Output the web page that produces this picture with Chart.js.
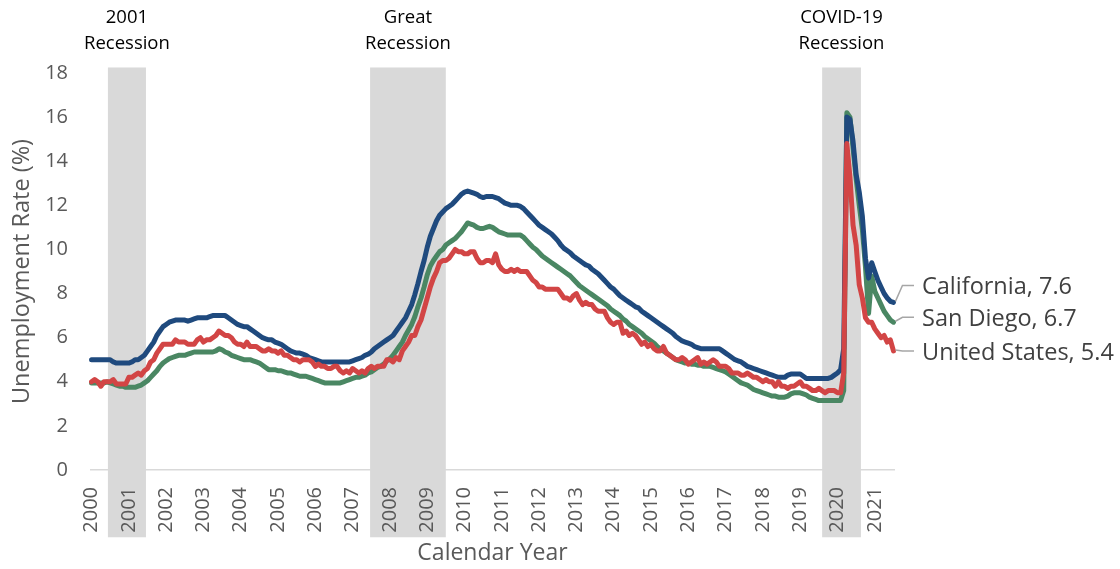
<!DOCTYPE html>
<html>
<head>
<meta charset="utf-8">
<script src="https://cdn.jsdelivr.net/npm/chart.js@4.4.1/dist/chart.umd.min.js"></script>
<style>
  html, body { margin: 0; padding: 0; background: #ffffff; }
  #wrap { width: 1120px; height: 569px; position: relative; }
</style>
</head>
<body>
<div id="wrap"><canvas id="chart"></canvas></div>
<script>
// Monthly unemployment rates (%), January 2000 through July 2021.
const firstYear = 2000;
const yearLabels = ['2000','2001','2002','2003','2004','2005','2006','2007','2008','2009','2010',
                    '2011','2012','2013','2014','2015','2016','2017','2018','2019','2020','2021'];

const unitedStates = [
  4.0,4.1,4.0,3.8,4.0,4.0,4.0,4.1,3.9,3.9,3.9,3.9,
  4.2,4.2,4.3,4.4,4.3,4.5,4.6,4.9,5.0,5.3,5.5,5.7,
  5.7,5.7,5.7,5.9,5.8,5.8,5.8,5.7,5.7,5.7,5.9,6.0,
  5.8,5.9,5.9,6.0,6.1,6.3,6.2,6.1,6.1,6.0,5.8,5.7,
  5.7,5.6,5.8,5.6,5.6,5.6,5.5,5.4,5.4,5.5,5.4,5.4,
  5.3,5.4,5.2,5.2,5.1,5.0,5.0,4.9,5.0,5.0,5.0,4.9,
  4.7,4.8,4.7,4.7,4.6,4.6,4.7,4.7,4.5,4.4,4.5,4.4,
  4.6,4.5,4.4,4.5,4.4,4.6,4.7,4.6,4.7,4.7,4.7,5.0,
  5.0,4.9,5.1,5.0,5.4,5.6,5.8,6.1,6.1,6.5,6.8,7.3,
  7.8,8.3,8.7,9.0,9.4,9.5,9.5,9.6,9.8,10.0,9.9,9.9,
  9.8,9.8,9.9,9.9,9.6,9.4,9.4,9.5,9.5,9.4,9.8,9.3,
  9.1,9.0,9.0,9.1,9.0,9.1,9.0,9.0,9.0,8.8,8.6,8.5,
  8.3,8.3,8.2,8.2,8.2,8.2,8.2,8.0,7.8,7.8,7.7,7.9,
  8.0,7.7,7.5,7.6,7.5,7.5,7.3,7.2,7.2,7.2,6.9,6.7,
  6.6,6.7,6.7,6.2,6.3,6.1,6.2,6.1,5.9,5.7,5.8,5.6,
  5.7,5.5,5.4,5.4,5.6,5.3,5.2,5.1,5.0,5.0,5.1,5.0,
  4.8,4.9,5.0,5.1,4.8,4.9,4.8,4.9,5.0,4.9,4.7,4.7,
  4.7,4.6,4.4,4.4,4.4,4.3,4.3,4.4,4.3,4.2,4.2,4.1,
  4.0,4.1,4.0,4.0,3.8,4.0,3.8,3.8,3.7,3.8,3.8,3.9,
  4.0,3.8,3.8,3.7,3.6,3.6,3.7,3.6,3.5,3.6,3.6,3.6,
  3.5,3.5,4.4,14.8,13.3,11.1,10.2,8.4,7.8,6.9,6.7,6.7,
  6.4,6.2,6.0,6.1,5.8,5.9,5.4
];

const california = [
  5.0,5.0,5.0,5.0,5.0,5.0,5.0,4.9,4.85,4.85,4.85,4.85,
  4.85,4.9,5.0,5.0,5.1,5.2,5.4,5.6,5.8,6.1,6.3,6.5,
  6.6,6.7,6.75,6.8,6.8,6.8,6.8,6.75,6.8,6.85,6.9,6.9,
  6.9,6.9,6.95,7.0,7.0,7.0,7.0,7.0,6.9,6.8,6.7,6.6,
  6.55,6.5,6.5,6.4,6.3,6.2,6.1,6.0,5.95,5.9,5.9,5.8,
  5.75,5.7,5.6,5.5,5.4,5.35,5.3,5.3,5.25,5.2,5.1,5.05,
  5.0,4.95,4.9,4.9,4.9,4.9,4.9,4.9,4.9,4.9,4.9,4.9,
  4.95,5.0,5.05,5.1,5.2,5.25,5.35,5.5,5.6,5.7,5.8,5.9,
  6.0,6.1,6.3,6.5,6.7,6.9,7.2,7.5,7.95,8.45,9.0,9.5,
  10.1,10.6,10.95,11.3,11.55,11.7,11.85,11.95,12.05,12.2,12.35,12.5,
  12.6,12.65,12.6,12.55,12.5,12.4,12.35,12.4,12.4,12.4,12.35,12.3,
  12.2,12.1,12.05,12.0,12.0,12.0,11.95,11.85,11.7,11.55,11.4,11.25,
  11.1,11.0,10.9,10.8,10.7,10.55,10.4,10.2,10.05,9.95,9.85,9.7,
  9.6,9.5,9.4,9.3,9.25,9.1,9.0,8.9,8.75,8.6,8.45,8.3,
  8.2,8.05,7.9,7.8,7.7,7.6,7.5,7.4,7.35,7.2,7.1,7.0,
  6.9,6.8,6.7,6.6,6.5,6.4,6.3,6.2,6.05,5.95,5.85,5.8,
  5.75,5.7,5.6,5.55,5.5,5.5,5.5,5.5,5.5,5.5,5.5,5.4,
  5.3,5.2,5.1,5.0,4.95,4.9,4.8,4.7,4.65,4.6,4.55,4.5,
  4.45,4.4,4.35,4.3,4.25,4.2,4.2,4.2,4.3,4.35,4.35,4.35,
  4.35,4.25,4.15,4.15,4.15,4.15,4.15,4.15,4.15,4.15,4.2,4.3,
  4.4,4.55,5.5,16.0,15.9,14.9,13.4,12.6,11.5,9.6,8.7,9.4,
  9.0,8.6,8.3,8.0,7.8,7.65,7.6
];

const sanDiego = [
  3.95,3.95,3.95,3.95,3.95,4.0,3.95,3.9,3.85,3.8,3.8,3.75,
  3.75,3.75,3.75,3.8,3.85,3.95,4.05,4.2,4.35,4.5,4.7,4.85,
  4.95,5.05,5.1,5.15,5.2,5.2,5.2,5.25,5.3,5.35,5.35,5.35,
  5.35,5.35,5.35,5.35,5.4,5.5,5.45,5.35,5.3,5.2,5.15,5.1,
  5.05,5.0,5.0,5.0,4.95,4.9,4.85,4.75,4.65,4.55,4.55,4.55,
  4.5,4.5,4.45,4.4,4.4,4.35,4.3,4.25,4.25,4.25,4.2,4.15,
  4.1,4.05,4.0,3.95,3.95,3.95,3.95,3.95,3.95,4.0,4.05,4.1,
  4.15,4.2,4.2,4.25,4.3,4.4,4.45,4.55,4.65,4.7,4.8,4.95,
  5.05,5.2,5.4,5.6,5.8,6.1,6.35,6.6,6.95,7.4,7.8,8.3,
  8.85,9.25,9.5,9.7,9.9,10.0,10.2,10.3,10.4,10.5,10.65,10.8,
  11.0,11.2,11.15,11.1,11.0,10.95,10.95,11.0,11.05,11.0,10.9,10.8,
  10.75,10.7,10.65,10.65,10.65,10.65,10.65,10.55,10.4,10.25,10.1,10.0,
  9.85,9.7,9.6,9.5,9.4,9.3,9.2,9.1,9.0,8.9,8.8,8.65,
  8.5,8.35,8.25,8.15,8.05,7.95,7.85,7.75,7.65,7.55,7.45,7.3,
  7.2,7.1,7.0,6.85,6.75,6.6,6.5,6.4,6.3,6.2,6.05,5.95,
  5.85,5.75,5.6,5.5,5.4,5.3,5.2,5.1,5.0,4.95,4.9,4.85,
  4.85,4.8,4.8,4.75,4.75,4.7,4.7,4.7,4.65,4.6,4.55,4.5,
  4.45,4.35,4.25,4.15,4.05,3.95,3.9,3.85,3.75,3.65,3.6,3.55,
  3.5,3.45,3.4,3.35,3.35,3.3,3.3,3.3,3.35,3.45,3.5,3.5,
  3.5,3.45,3.4,3.3,3.25,3.2,3.15,3.15,3.15,3.15,3.15,3.15,
  3.15,3.15,3.6,16.2,16.0,14.6,13.2,12.0,10.9,9.2,7.1,8.8,
  8.1,7.8,7.5,7.2,7.0,6.8,6.7
];

// Recession periods, as decimal years, with their two-line captions.
const recessionNames = [['2001', 'Recession'], ['Great', 'Recession'], ['COVID-19', 'Recession']];
const recessionStart = [2000.48, 2007.51, 2019.63];
const recessionEnd   = [2001.50, 2009.54, 2020.67];

// One category per month.
const months = unitedStates.map((_, i) =>
  `${firstYear + Math.floor(i / 12)}-${String(i % 12 + 1).padStart(2, '0')}`);

const FONT = "'Open Sans', 'Noto Sans', sans-serif";
const AXIS_GREY = '#595959';

// Month index (category value) of a decimal year, measured at the start of the month.
const yearToIndex = yr => (yr - firstYear) * 12 - 0.5;

const recessionBands = {
  id: 'recessionBands',
  beforeDraw(chart) {
    const { ctx, scales: { x, y } } = chart;
    const top = y.getPixelForValue(18.25);
    const bottom = y.getPixelForValue(-3.05);
    ctx.save();
    ctx.fillStyle = '#d9d9d9';
    recessionStart.forEach((start, k) => {
      const x0 = x.getPixelForValue(yearToIndex(start));
      const x1 = x.getPixelForValue(yearToIndex(recessionEnd[k]));
      ctx.fillRect(x0, top, x1 - x0, bottom - top);
    });
    ctx.restore();
  },
  afterDraw(chart) {
    const { ctx, scales: { x }, chartArea } = chart;
    ctx.save();
    ctx.fillStyle = '#000000';
    ctx.font = `18.5px ${FONT}`;
    ctx.textAlign = 'center';
    ctx.textBaseline = 'middle';
    recessionStart.forEach((start, k) => {
      const cx = (x.getPixelForValue(yearToIndex(start)) + x.getPixelForValue(yearToIndex(recessionEnd[k]))) / 2;
      ctx.fillText(recessionNames[k][0], cx, chartArea.top - 55);
      ctx.fillText(recessionNames[k][1], cx, chartArea.top - 29);
    });
    ctx.restore();
  }
};

// Series name and final value, tied to each line's last point by a short leader.
const endLabelOffsets = [2, -15, -3];
const endLabels = {
  id: 'endLabels',
  afterDraw(chart) {
    const { ctx, chartArea } = chart;
    ctx.save();
    ctx.font = `23.5px ${FONT}`;
    ctx.textAlign = 'left';
    ctx.textBaseline = 'middle';
    chart.data.datasets.forEach((ds, i) => {
      const meta = chart.getDatasetMeta(i);
      const pt = meta.data[meta.data.length - 1];
      const value = ds.data[ds.data.length - 1];
      const ly = pt.y + endLabelOffsets[i];
      const tx = chartArea.right + 27;
      ctx.strokeStyle = '#a6a6a6';
      ctx.lineWidth = 1.5;
      ctx.beginPath();
      ctx.moveTo(pt.x + 2, pt.y - 1);
      ctx.lineTo(pt.x + 9, ly - 2);
      ctx.lineTo(tx - 8, ly - 2);
      ctx.stroke();
      ctx.fillStyle = '#404040';
      ctx.fillText(`${ds.label}, ${value.toFixed(1)}`, tx, ly);
    });
    ctx.restore();
  }
};

const lineStyle = {
  fill: false,
  tension: 0,
  pointRadius: 0,
  pointHoverRadius: 0,
  borderWidth: 5,
  borderJoinStyle: 'round',
  borderCapStyle: 'round'
};

new Chart(document.getElementById('chart'), {
  type: 'line',
  data: {
    labels: months,
    datasets: [
      { label: 'United States', data: unitedStates, borderColor: '#d24545', ...lineStyle },
      { label: 'California',    data: california,   borderColor: '#1f4a7e', ...lineStyle },
      { label: 'San Diego',     data: sanDiego,     borderColor: '#4a8763', ...lineStyle }
    ]
  },
  options: {
    responsive: true,
    maintainAspectRatio: false,
    animation: false,
    events: [],
    layout: { padding: { left: 8, right: 225, top: 73, bottom: 0 } },
    plugins: {
      legend: { display: false },
      tooltip: { enabled: false }
    },
    scales: {
      x: {
        type: 'category',
        offset: true,
        grid: { display: false, drawTicks: false },
        border: { display: false },
        ticks: {
          autoSkip: false,
          minRotation: 90,
          maxRotation: 90,
          padding: 17,
          color: AXIS_GREY,
          font: { family: FONT, size: 20 },
          callback: (value, index) => (index % 12 === 0 ? yearLabels[index / 12] : '')
        },
        title: {
          display: true,
          text: 'Calendar Year',
          color: AXIS_GREY,
          font: { family: FONT, size: 23 },
          padding: { top: 0, bottom: 2 }
        },
        afterFit(scale) { scale.height = 99; }
      },
      y: {
        min: 0,
        max: 18,
        grid: {
          drawTicks: false,
          lineWidth: 1.5,
          color: ctx => (ctx.tick && ctx.tick.value === 0 ? '#d9d9d9' : 'rgba(0,0,0,0)')
        },
        border: { display: false },
        ticks: {
          stepSize: 2,
          padding: 22,
          color: AXIS_GREY,
          font: { family: FONT, size: 20 }
        },
        title: {
          display: true,
          text: 'Unemployment Rate (%)',
          color: AXIS_GREY,
          font: { family: FONT, size: 23.5 },
          padding: { top: 0, bottom: 0 }
        },
        afterFit(scale) { scale.width = 82; }
      }
    }
  },
  plugins: [recessionBands, endLabels]
});
</script>
</body>
</html>
